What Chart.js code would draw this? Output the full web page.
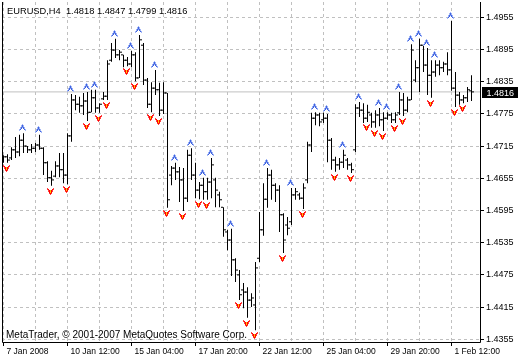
<!DOCTYPE html>
<html><head><meta charset="utf-8">
<script src="https://cdn.jsdelivr.net/npm/chart.js@4/dist/chart.umd.min.js"></script>
<style>html,body{margin:0;padding:0;background:#fff;}canvas{display:block;}</style>
</head><body>
<canvas id="c" width="520" height="360"></canvas>
<script>
const symbolTitle = 'EURUSD,H4  1.4818 1.4847 1.4799 1.4816';
const copyright = 'MetaTrader, \u00A9 2001-2007 MetaQuotes Software Corp.';

const highs = [1.4698,1.4700,1.4713,1.4732,1.4736,1.4739,1.4715,1.4719,1.4721,1.4736,
1.4713,1.4687,1.4669,1.4687,1.4702,1.4702,1.4739,1.4812,1.4810,1.4807,
1.4814,1.4816,1.4820,1.4820,1.4795,1.4816,1.4875,1.4907,1.4915,1.4894,
1.4885,1.4881,1.4892,1.4890,1.4922,1.4907,1.4842,1.4834,1.4857,1.4833,
1.4834,1.4814,1.4678,1.4684,1.4676,1.4674,1.4708,1.4711,1.4684,1.4648,
1.4656,1.4656,1.4693,1.4656,1.4630,1.4601,1.4559,1.4561,1.4506,1.4484,
1.4460,1.4452,1.4441,1.4499,1.4592,1.4646,1.4674,1.4671,1.4646,1.4642,
1.4590,1.4583,1.4637,1.4637,1.4628,1.4646,1.4723,1.4777,1.4778,1.4777,
1.4777,1.4775,1.4730,1.4695,1.4693,1.4708,1.4693,1.4684,1.4793,1.4797,
1.4795,1.4792,1.4777,1.4782,1.4786,1.4778,1.4778,1.4777,1.4778,1.4816,
1.4814,1.4807,1.4905,1.4875,1.4915,1.4903,1.4898,1.4875,1.4875,1.4875,
1.4872,1.4890,1.4948,1.4853,1.4816,1.4810,1.4825,1.4847];
const lows = [1.4684,1.4684,1.4689,1.4693,1.4696,1.4702,1.4702,1.4702,1.4704,1.4708,
1.4661,1.4648,1.4641,1.4657,1.4657,1.4646,1.4644,1.4723,1.4782,1.4777,
1.4773,1.4762,1.4778,1.4777,1.4777,1.4801,1.4801,1.4872,1.4879,1.4875,
1.4862,1.4864,1.4862,1.4836,1.4842,1.4829,1.4786,1.4778,1.4810,1.4771,
1.4775,1.4600,1.4642,1.4652,1.4611,1.4594,1.4611,1.4652,1.4618,1.4616,
1.4615,1.4615,1.4618,1.4601,1.4601,1.4546,1.4521,1.4473,1.4462,1.4428,
1.4413,1.4395,1.4415,1.4372,1.4499,1.4548,1.4600,1.4615,1.4611,1.4555,
1.4516,1.4549,1.4568,1.4615,1.4615,1.4598,1.4646,1.4704,1.4754,1.4752,
1.4758,1.4685,1.4671,1.4667,1.4671,1.4674,1.4671,1.4665,1.4704,1.4769,
1.4758,1.4760,1.4749,1.4749,1.4752,1.4743,1.4764,1.4758,1.4758,1.4773,
1.4771,1.4778,1.4801,1.4834,1.4816,1.4853,1.4810,1.4805,1.4844,1.4847,
1.4853,1.4847,1.4818,1.4788,1.4792,1.4795,1.4797,1.4799];
const opens = [1.4689,1.4695,1.4693,1.4708,1.4704,1.4726,1.4715,1.4708,1.4711,1.4717,
1.4711,1.4684,1.4656,1.4659,1.4678,1.4671,1.4661,1.4734,1.4801,1.4793,
1.4790,1.4799,1.4778,1.4805,1.4786,1.4803,1.4808,1.4875,1.4894,1.4885,
1.4885,1.4875,1.4868,1.4885,1.4842,1.4903,1.4838,1.4793,1.4823,1.4820,
1.4782,1.4814,1.4661,1.4674,1.4667,1.4652,1.4618,1.4698,1.4661,1.4633,
1.4642,1.4630,1.4648,1.4652,1.4624,1.4601,1.4555,1.4540,1.4503,1.4475,
1.4447,1.4443,1.4428,1.4419,1.4506,1.4559,1.4616,1.4661,1.4642,1.4633,
1.4587,1.4568,1.4574,1.4624,1.4624,1.4618,1.4652,1.4717,1.4767,1.4773,
1.4764,1.4767,1.4726,1.4689,1.4680,1.4685,1.4689,1.4680,1.4708,1.4786,
1.4782,1.4767,1.4773,1.4760,1.4773,1.4764,1.4767,1.4773,1.4764,1.4777,
1.4801,1.4782,1.4801,1.4838,1.4861,1.4903,1.4866,1.4847,1.4853,1.4866,
1.4861,1.4868,1.4857,1.4823,1.4810,1.4801,1.4805,1.4818];
const closes = [1.4695,1.4689,1.4708,1.4704,1.4726,1.4715,1.4708,1.4711,1.4717,1.4711,
1.4684,1.4656,1.4652,1.4678,1.4671,1.4661,1.4734,1.4801,1.4793,1.4790,
1.4799,1.4778,1.4805,1.4786,1.4793,1.4808,1.4868,1.4894,1.4885,1.4890,
1.4875,1.4868,1.4885,1.4842,1.4913,1.4838,1.4793,1.4823,1.4820,1.4782,
1.4814,1.4615,1.4674,1.4667,1.4652,1.4618,1.4698,1.4661,1.4633,1.4642,
1.4630,1.4648,1.4680,1.4633,1.4615,1.4559,1.4540,1.4503,1.4484,1.4438,
1.4443,1.4428,1.4432,1.4488,1.4559,1.4616,1.4661,1.4642,1.4633,1.4587,
1.4540,1.4562,1.4624,1.4630,1.4618,1.4637,1.4717,1.4767,1.4773,1.4760,
1.4767,1.4726,1.4689,1.4680,1.4685,1.4698,1.4680,1.4671,1.4786,1.4782,
1.4767,1.4778,1.4760,1.4773,1.4764,1.4767,1.4773,1.4764,1.4773,1.4801,
1.4782,1.4801,1.4894,1.4861,1.4903,1.4866,1.4847,1.4853,1.4866,1.4861,
1.4868,1.4857,1.4823,1.4810,1.4801,1.4805,1.4820,1.4816];

const fractalUp = [5,9,17,21,23,28,32,34,38,43,47,50,52,57,66,72,78,81,85,89,94,96,99,102,104,106,108,112];
const fractalDown = [1,12,16,21,24,26,31,33,37,39,41,45,49,51,59,61,63,70,75,83,87,91,93,95,98,100,107,113,115];

const priceTicks = [1.4355,1.4415,1.4475,1.4535,1.4595,1.4655,1.4715,1.4775,1.4835,1.4895,1.4955];
const gridBars = [0,8,16,24,32,40,48,56,64,72,80,88,96,104,112];
const labelBars = [0,16,32,48,64,80,96,112];
const labelTexts = ['7 Jan 2008','10 Jan 12:00','15 Jan 04:00','17 Jan 20:00','22 Jan 12:00','25 Jan 04:00','29 Jan 20:00','1 Feb 12:00'];

const FONT = "'Liberation Sans', Arial, sans-serif";
Chart.defaults.font.family = FONT;
Chart.defaults.font.size = 9;
Chart.defaults.color = '#000';

function makeArrow(rows, colors, up) {
  const w = 9, h = 30;
  const c = document.createElement('canvas'); c.width = w; c.height = h;
  const g = c.getContext('2d');
  const y0 = up ? (h / 2 - 2 - rows.length) : (h / 2 + 2);
  rows.forEach((r, ry) => {
    for (let rx = 0; rx < r.length; rx++) {
      const col = colors[r[rx]];
      if (col) { g.fillStyle = col; g.fillRect(rx, y0 + ry, 1, 1); }
    }
  });
  return c;
}
const upArrow = makeArrow([
  '...a...',
  '..aBa..',
  '..aBa..',
  '.aBbBa.',
  '.aB.Ba.',
  'aB...Ba',
  'a.....a'
], {a:'#9fb4f5', B:'#3f63e0', b:'#7f98ee'}, true);
const downArrow = makeArrow([
  'r.....r',
  'rR...Rr',
  '.rRyRr.',
  '.rRyRr.',
  '..RyR..',
  '..rRr..',
  '...r...'
], {r:'#ff4040', R:'#ff0000', y:'#ffc000'}, false);

const n = highs.length;
const idx = highs.map((_, i) => i);
const lastClose = closes[n - 1];

function noPad(s) { s.paddingLeft = 0; s.paddingRight = 0; s.paddingTop = 0; s.paddingBottom = 0; }

const decor = {
  id: 'decor',
  beforeDatasetsDraw(chart) { chart.ctx.imageSmoothingEnabled = false; },
  afterDraw(chart) {
    const {ctx, chartArea: a, scales: {y}} = chart;
    ctx.save();
    ctx.strokeStyle = '#000'; ctx.lineWidth = 1;
    ctx.beginPath();
    ctx.moveTo(a.left + 0.5, a.top);
    ctx.lineTo(a.left + 0.5, a.bottom + 0.5);
    ctx.lineTo(a.right + 0.5, a.bottom + 0.5);
    ctx.lineTo(a.right + 0.5, a.top);
    ctx.stroke();
    ctx.fillStyle = '#000';
    ctx.textBaseline = 'alphabetic';
    ctx.font = '9.3px ' + FONT;
    ctx.fillText(symbolTitle, 7, 14);
    ctx.font = '10px ' + FONT;
    ctx.fillText(copyright, 6, 338);
    ctx.font = '9px ' + FONT;
    const py = Math.round(y.getPixelForValue(lastClose));
    ctx.fillRect(a.right + 2, py - 5, 36, 11);
    ctx.fillStyle = '#fff';
    ctx.fillText(lastClose.toFixed(4), a.right + 6.5, py + 3.5);
    ctx.restore();
  }
};

new Chart(document.getElementById('c'), {
  type: 'bar',
  data: {
    datasets: [
      { type: 'line', order: 10, data: [{x: -5, y: lastClose}, {x: n + 10, y: lastClose}],
        borderColor: '#c0c0c0', borderWidth: 1, pointRadius: 0 },
      { type: 'bar', order: 5, data: idx.map(i => ({x: i, y: [lows[i], highs[i]]})),
        backgroundColor: '#000', borderWidth: 0, barThickness: 1, inflateAmount: 0 },
      { type: 'scatter', order: 4, data: idx.map(i => ({x: i - 0.375, y: opens[i]})),
        pointStyle: 'line', pointRadius: 1, borderColor: '#000', borderWidth: 1 },
      { type: 'scatter', order: 4, data: idx.map(i => ({x: i + 0.375, y: closes[i]})),
        pointStyle: 'line', pointRadius: 1, borderColor: '#000', borderWidth: 1 },
      { type: 'scatter', order: 1, data: fractalUp.map(i => ({x: i, y: highs[i]})),
        pointStyle: upArrow, pointRadius: 3 },
      { type: 'scatter', order: 1, data: fractalDown.map(i => ({x: i, y: lows[i]})),
        pointStyle: downArrow, pointRadius: 3 }
    ]
  },
  options: {
    responsive: false, animation: false, devicePixelRatio: 1, events: [],
    layout: { autoPadding: false, padding: { left: 2, top: 2, right: 0, bottom: 0 } },
    plugins: { legend: { display: false }, tooltip: { enabled: false } },
    scales: {
      x: {
        type: 'linear', offset: false, min: -0.375, max: 119.125, bounds: 'data',
        afterFit: s => { s.height = 18; noPad(s); },
        afterBuildTicks: s => { s.ticks = gridBars.map(v => ({value: v})); },
        ticks: { autoSkip: false, maxRotation: 0, align: 'start', labelOffset: 3, padding: 1,
          font: { size: 8.5 },
          callback: v => { const k = labelBars.indexOf(v); return k >= 0 ? labelTexts[k] : ''; } },
        grid: { offset: false, color: '#c0c0c0', tickLength: 4, tickBorderDash: [],
          tickColor: c => (c.tick && labelBars.indexOf(c.tick.value) >= 0) ? '#000' : 'rgba(0,0,0,0)' },
        border: { display: false, dash: [3, 3] }
      },
      y: {
        position: 'right', min: 1.434997, max: 1.498351, bounds: 'data', beginAtZero: false,
        afterFit: s => { s.width = 40; noPad(s); },
        afterBuildTicks: s => { s.ticks = priceTicks.map(v => ({value: v})); },
        ticks: { padding: 2, callback: v => v.toFixed(4) },
        grid: { color: '#c0c0c0', tickColor: '#000', tickLength: 4, tickBorderDash: [] },
        border: { display: false, dash: [3, 3] }
      }
    }
  },
  plugins: [decor]
});
</script>
</body></html>
